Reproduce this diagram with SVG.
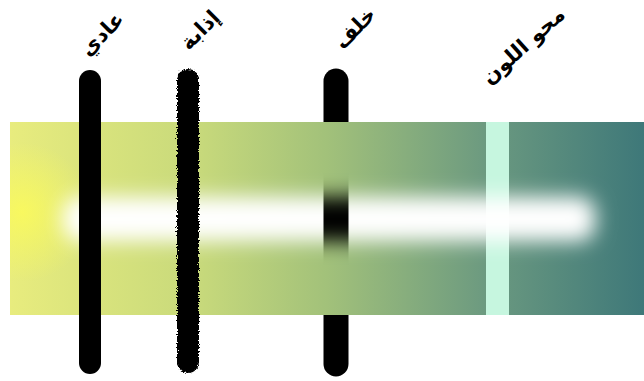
<svg xmlns="http://www.w3.org/2000/svg" width="644" height="381" viewBox="0 0 644 381">
  <style>
    .lbl { font-family: "DejaVu Sans", "Noto Sans", sans-serif; font-weight: bold; font-size: 21px; fill: #000; text-anchor: middle; }
    .bar { stroke: #000; stroke-linecap: round; fill: none; }
  </style>
  <defs>
    <linearGradient id="grad" x1="10" y1="0" x2="644" y2="0" gradientUnits="userSpaceOnUse">
      <stop offset="0" stop-color="#e8ec7e"/>
      <stop offset="0.3" stop-color="#c7d97b"/>
      <stop offset="0.5" stop-color="#a2c17a"/>
      <stop offset="0.75" stop-color="#6c9a80"/>
      <stop offset="1" stop-color="#3e7879"/>
    </linearGradient>
    <radialGradient id="glow" cx="22" cy="212" r="70" gradientUnits="userSpaceOnUse">
      <stop offset="0" stop-color="#fafa5c" stop-opacity="0.9"/>
      <stop offset="1" stop-color="#fafa5c" stop-opacity="0"/>
    </radialGradient>
    <filter id="blur" filterUnits="userSpaceOnUse" x="0" y="120" width="644" height="200">
      <feGaussianBlur stdDeviation="10"/>
    </filter>
    <mask id="hole" maskUnits="userSpaceOnUse" x="0" y="0" width="644" height="381">
      <rect x="0" y="0" width="644" height="381" fill="#fff"/>
      <rect x="63" y="197" width="532" height="44" rx="16" fill="#000" filter="url(#blur)"/>
    </mask>
    <filter id="rough" filterUnits="userSpaceOnUse" x="160" y="50" width="60" height="340">
      <feTurbulence type="fractalNoise" baseFrequency="0.7" numOctaves="2" seed="3" result="n"/>
      <feDisplacementMap in="SourceGraphic" in2="n" scale="5" xChannelSelector="R" yChannelSelector="G"/>
    </filter>
  </defs>
  <rect width="644" height="381" fill="#fff"/>
  <g id="connectors">
    <line id="bar-behind" class="bar" x1="336" y1="81" x2="336" y2="364" stroke-width="25"/>
    <g id="layer" mask="url(#hole)">
      <rect x="10" y="122" width="634" height="193" fill="url(#grad)"/>
      <rect x="10" y="122" width="634" height="193" fill="url(#glow)"/>
      <rect id="clear" x="486" y="122" width="23" height="193" fill="#c6f6df"/>
    </g>
    <line id="bar-normal" class="bar" x1="90" y1="81" x2="90" y2="363" stroke-width="22"/>
    <line id="bar-dissolve" class="bar" x1="188" y1="80" x2="188" y2="362" stroke-width="22" filter="url(#rough)"/>
  </g>
  <g id="node-normal"><text class="lbl" transform="translate(107,39) rotate(-45)">عادي</text></g>
  <g id="node-dissolve"><text class="lbl" transform="translate(205,35) rotate(-45)">إذابة</text></g>
  <g id="node-behind"><text class="lbl" transform="translate(360,33) rotate(-45)">خلف</text></g>
  <g id="node-clear"><text class="lbl" transform="translate(528,51) rotate(-42)">محو اللون</text></g>
</svg>
